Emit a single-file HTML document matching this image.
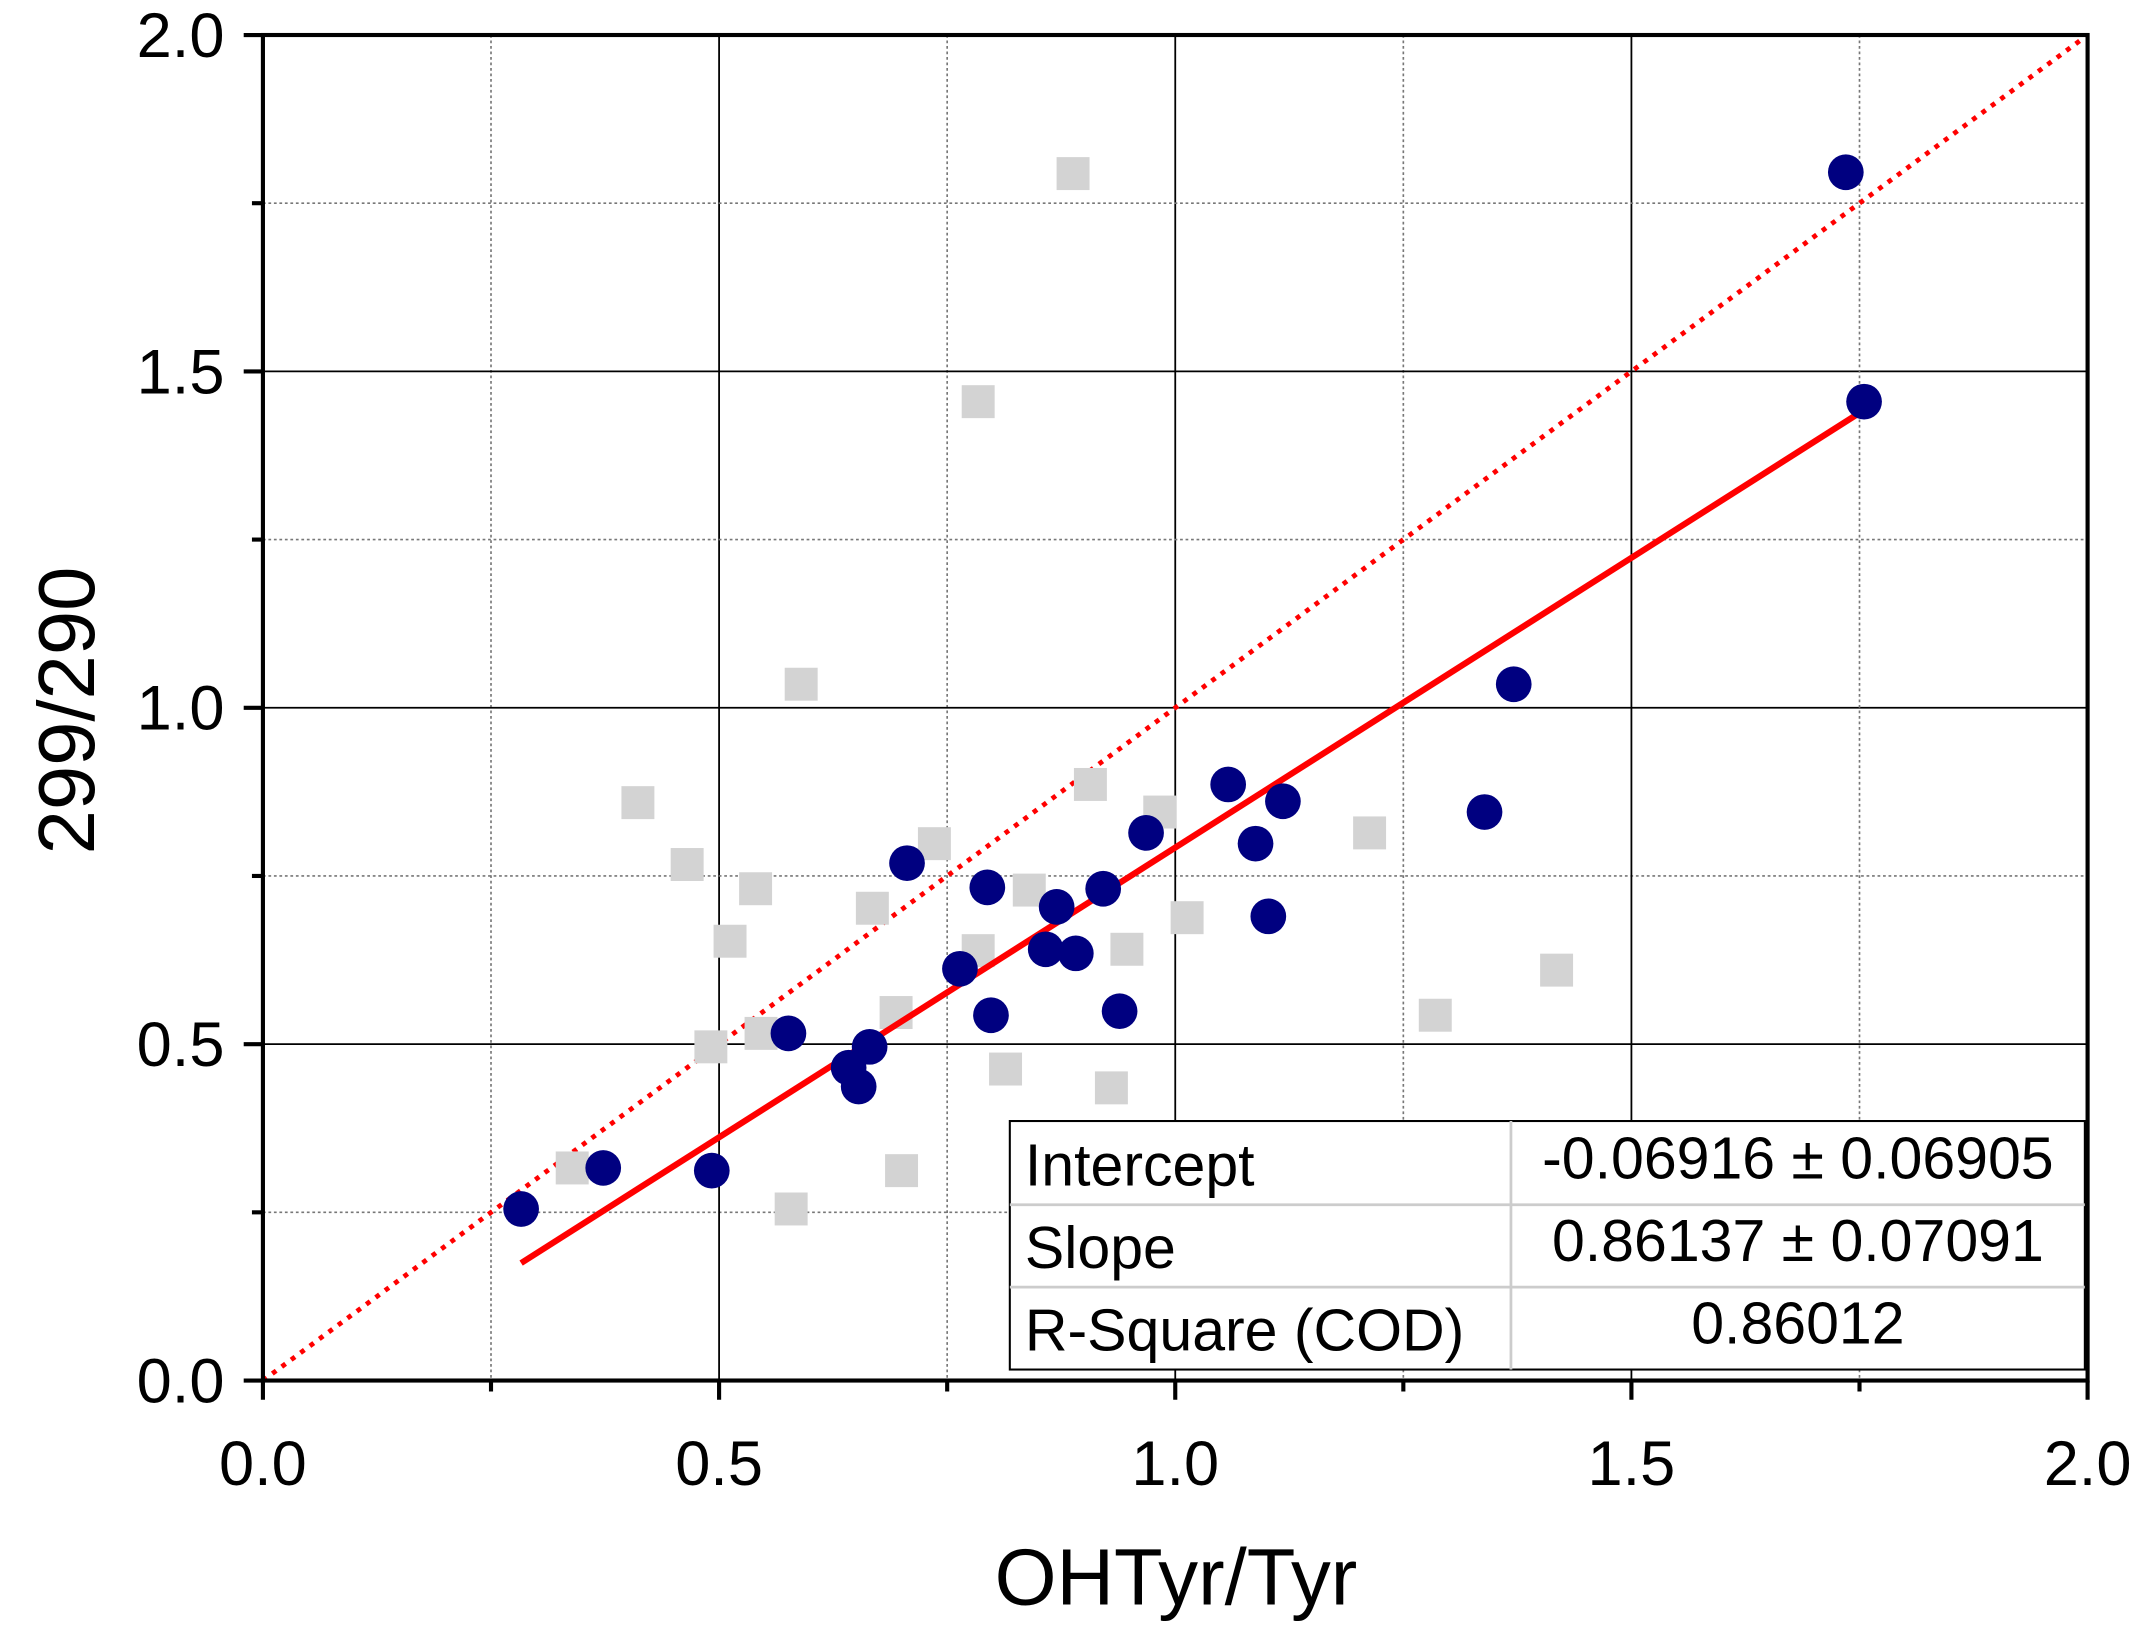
<!DOCTYPE html>
<html><head><meta charset="utf-8"><style>html,body{margin:0;padding:0;background:#fff}svg{display:block}</style></head>
<body>
<svg id="chart" width="2155" height="1644" viewBox="-1.5 -0.5 1569.6 1197.4" preserveAspectRatio="none" xmlns="http://www.w3.org/2000/svg" font-family="Liberation Sans, Arial, sans-serif"></svg>
<script>
const xTicks=[0,0.5,1.0,1.5,2.0];
const yTicks=[0,0.5,1.0,1.5,2.0];
const tickLabels=["0.0","0.5","1.0","1.5","2.0"];
const blueX=[0.283,0.373,0.492,0.576,0.642,0.653,0.665,0.706,0.764,0.794,0.798,0.858,0.870,0.891,0.921,0.939,0.968,1.058,1.088,1.102,1.118,1.339,1.371,1.735,1.755];
const blueY=[0.255,0.316,0.312,0.516,0.465,0.437,0.496,0.769,0.612,0.733,0.543,0.641,0.704,0.635,0.731,0.549,0.814,0.886,0.798,0.690,0.861,0.845,1.035,1.796,1.455];
const grayX=[0.888,0.784,0.590,0.411,0.465,0.540,0.512,0.491,0.546,0.339,0.579,0.700,0.668,0.694,0.736,0.784,0.814,0.840,0.907,0.983,0.930,0.947,1.013,1.213,1.285,1.418];
const grayY=[1.794,1.455,1.035,0.859,0.767,0.731,0.653,0.496,0.516,0.316,0.255,0.312,0.702,0.547,0.798,0.639,0.463,0.729,0.886,0.845,0.435,0.641,0.688,0.814,0.543,0.610];
const fitIntercept=-0.06916, fitSlope=0.86137;
const fitRange=[0.283,1.755];
const tableRows=[["Intercept","-0.06916 \u00b1 0.06905"],["Slope","0.86137 \u00b1 0.07091"],["R-Square (COD)","0.86012"]];

const NS="http://www.w3.org/2000/svg";
const svg=document.getElementById('chart');
const L=190,R=1519,T=25,B=1005;
const sx=v=>L+(R-L)*v/2, sy=v=>B-(B-T)*v/2;
function mk(tag,attrs,parent){const e=document.createElementNS(NS,tag);for(const k in attrs)e.setAttribute(k,attrs[k]);(parent||svg).appendChild(e);return e;}

const grid=mk('g',{});


for(let i=1;i<8;i++){const v=i*0.25;const major=i%2===0;
  const st=major?{stroke:'#000','stroke-width':1.3}:{stroke:'#777','stroke-width':1.2,'stroke-dasharray':'2,2'};
  mk('line',Object.assign({x1:sx(v),x2:sx(v),y1:T,y2:B},st),grid);
  mk('line',Object.assign({x1:L,x2:R,y1:sy(v),y2:sy(v)},st),grid);
}
for(let i=0;i<=8;i++){const v=i*0.25;const len=i%2===0?14:8;
  mk('line',{x1:sx(v),x2:sx(v),y1:B,y2:B+len,stroke:'#000','stroke-width':3});
  mk('line',{x1:L-len,x2:L,y1:sy(v),y2:sy(v),stroke:'#000','stroke-width':3});
}
xTicks.forEach((v,i)=>{const t=mk('text',{x:sx(v),y:B+76,'text-anchor':'middle','font-size':46});t.textContent=tickLabels[i];
  
  });
yTicks.forEach((v,i)=>{const t=mk('text',{x:L-28,y:sy(v)+16,'text-anchor':'end','font-size':46});t.textContent=tickLabels[i];
  
  });
const idl=mk('line',{x1:sx(0),y1:sy(0),x2:sx(2),y2:sy(2),stroke:'#f00','stroke-width':3.5,'stroke-dasharray':'3.5,5'});


grayX.forEach((x,i)=>{const r=mk('rect',{x:sx(x)-12,y:sy(grayY[i])-12,width:24,height:24,fill:'#d3d3d3'});
  
  });
const fl=mk('line',{x1:sx(fitRange[0]),y1:sy(fitIntercept+fitSlope*fitRange[0]),x2:sx(fitRange[1]),y2:sy(fitIntercept+fitSlope*fitRange[1]),stroke:'#f00','stroke-width':4.5});


blueX.forEach((x,i)=>{const c=mk('circle',{cx:sx(x),cy:sy(blueY[i]),r:13,fill:'#000080'});
  
  });
const fr=mk('rect',{x:L,y:T,width:R-L,height:B-T,fill:'none',stroke:'#000','stroke-width':3});


const tb=mk('g',{});


mk('rect',{x:734,y:816,width:783,height:181,fill:'#fff',stroke:'#000','stroke-width':1.5},tb);
mk('line',{x1:1099,x2:1099,y1:816,y2:997,stroke:'#ccc','stroke-width':2},tb);
mk('line',{x1:734,x2:1517,y1:877,y2:877,stroke:'#ccc','stroke-width':2},tb);
mk('line',{x1:734,x2:1517,y1:937,y2:937,stroke:'#ccc','stroke-width':2},tb);
tableRows.forEach((r,i)=>{const y=863+i*60;
  const a=mk('text',{x:745,y:y,'font-size':43},tb);a.textContent=r[0];
  const b=mk('text',{x:1308,y:y-5,'font-size':43,'text-anchor':'middle'},tb);b.textContent=r[1];});
const xt=mk('text',{x:855,y:1168,'text-anchor':'middle','font-size':58});xt.textContent='OHTyr/Tyr';


const yt=mk('text',{x:0,y:0,'text-anchor':'middle','font-size':58,transform:'translate(67,517) rotate(-90)'});yt.textContent='299/290';


</script>
</body></html>
